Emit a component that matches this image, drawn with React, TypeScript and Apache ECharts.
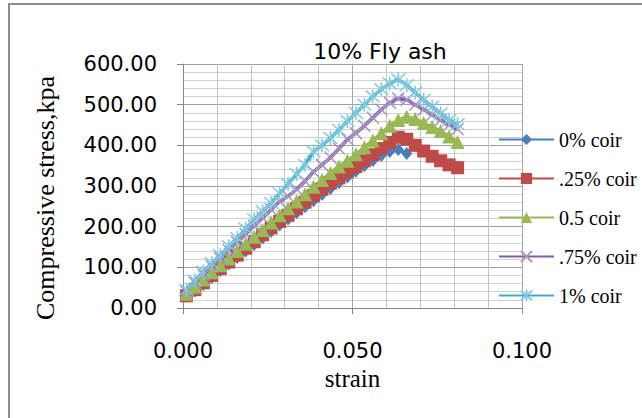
import React, { useEffect, useRef } from "react";
import * as echarts from "echarts";

const strain = [0.001, 0.0035, 0.006, 0.0085, 0.011, 0.0135, 0.016, 0.0185, 0.021, 0.0235, 0.026, 0.0285, 0.031, 0.0335, 0.036, 0.0385, 0.041, 0.0435, 0.046, 0.0485, 0.051, 0.0535, 0.056, 0.0585, 0.061, 0.0635, 0.066, 0.0685, 0.071, 0.0735, 0.076, 0.0785, 0.081];

const coir0 = [28, 42, 58, 75, 92, 108, 124, 140, 156, 172, 188, 204, 219, 234, 249, 264, 279, 294, 308, 322, 336, 350, 363, 375, 385, 390, 380];
const coir025 = [30, 45, 62, 80, 97, 113, 130, 147, 163, 180, 197, 213, 228, 244, 260, 276, 292, 307, 320, 335, 348, 362, 377, 392, 407, 420, 415, 400, 386, 373, 362, 352, 345];
const coir05 = [35, 52, 70, 88, 105, 122, 140, 158, 175, 192, 210, 228, 245, 262, 280, 298, 315, 332, 348, 362, 378, 395, 412, 430, 448, 462, 470, 465, 455, 445, 435, 422, 408];
const coir075 = [40, 62, 82, 102, 122, 142, 162, 182, 202, 222, 242, 262, 275, 292, 312, 335, 352, 370, 392, 415, 430, 448, 468, 488, 505, 515, 512, 500, 488, 475, 462, 450, 440];
const coir1 = [45, 68, 90, 110, 130, 152, 172, 195, 218, 238, 258, 282, 305, 330, 352, 385, 400, 418, 438, 460, 480, 500, 520, 538, 552, 562, 548, 530, 512, 495, 478, 462, 452];

const seriesNames = ["0% coir", ".25% coir", "0.5 coir", ".75% coir", "1% coir"];
const yTicks = [0, 100, 200, 300, 400, 500, 600];
const xTicks = [0, 0.05, 0.1];

const pair = (ys: number[]) => ys.map((y, i) => [strain[i], y]);

export default function App() {
  const ref = useRef<HTMLDivElement>(null);
  useEffect(() => {
    document.body.style.margin = "0";
    const chart = echarts.init(ref.current!, undefined, { renderer: "svg" });
    const sans = "DejaVu Sans";
    const serif = "Liberation Serif";
    const mk = (
      name: string,
      data: number[],
      color: string,
      markColor: string,
      symbol: string,
      size: number | number[],
      bw: number
    ) => ({
      name,
      type: "line",
      data: pair(data),
      symbol,
      symbolSize: size,
      showAllSymbol: true,
      lineStyle: { color, width: 3.5 },
      itemStyle: { color: markColor, borderColor: markColor, borderWidth: bw },
    });
    chart.setOption({
      animation: false,
      backgroundColor: "#ffffff",
      title: {
        text: "10% Fly ash",
        left: 375,
        textAlign: "center",
        top: 35,
        textStyle: { fontFamily: sans, fontSize: 22, fontWeight: "normal", color: "#000" },
      },
      graphic: [
        {
          type: "rect",
          shape: { x: 9, y: 4, width: 700, height: 500 },
          style: { fill: "none", stroke: "#8c8c8c", lineWidth: 2 },
          z: -10,
        },
        {
          type: "text",
          x: 45,
          y: 198,
          rotation: Math.PI / 2,
          style: {
            text: "Compressive stress,kpa",
            fontFamily: serif,
            fontSize: 26,
            fill: "#000",
            align: "center",
            verticalAlign: "middle",
          },
        },
      ],
      legend: {
        orient: "vertical",
        left: 493,
        top: 124,
        itemWidth: 55,
        itemHeight: 14,
        itemGap: 18,
        textStyle: { fontFamily: serif, fontSize: 20, color: "#000", lineHeight: 21 },
        data: seriesNames,
      },
      grid: { left: 183, right: 120, top: 64, bottom: 110 },
      xAxis: {
        type: "value",
        min: xTicks[0],
        max: xTicks[xTicks.length - 1],
        interval: 0.05,
        name: "strain",
        nameLocation: "middle",
        nameGap: 46,
        nameTextStyle: { fontFamily: serif, fontSize: 25, color: "#000" },
        axisLine: { show: true, lineStyle: { color: "#868686", width: 1 } },
        axisTick: { show: true, length: 6, lineStyle: { color: "#868686" } },
        axisLabel: {
          margin: 32,
          fontFamily: sans,
          fontSize: 21,
          color: "#000",
          formatter: (v: number) => v.toFixed(3),
        },
        splitLine: { show: true, lineStyle: { color: "#a8a8a8", width: 1 } },
        minorTick: { show: false, splitNumber: 5 },
        minorSplitLine: { show: true, lineStyle: { color: "#c4c4c4", width: 1 } },
      },
      yAxis: {
        type: "value",
        min: yTicks[0],
        max: yTicks[yTicks.length - 1],
        interval: 100,
        axisLine: { show: true, lineStyle: { color: "#868686", width: 1 } },
        axisTick: { show: true, length: 6, lineStyle: { color: "#868686" } },
        axisLabel: {
          margin: 26,
          fontFamily: sans,
          fontSize: 21,
          color: "#000",
          formatter: (v: number) => v.toFixed(2),
        },
        splitLine: { show: true, lineStyle: { color: "#a0a0a0", width: 1 } },
        minorTick: { show: false, splitNumber: 5 },
        minorSplitLine: { show: true, lineStyle: { color: "#d0d0d0", width: 1 } },
      },
      series: [
        mk(seriesNames[0], coir0, "#4A7EBB", "#4A7EBB", "diamond", [11, 13], 0),
        mk(seriesNames[1], coir025, "#BE4B48", "#BE4B48", "rect", 13, 0),
        mk(seriesNames[2], coir05, "#98B954", "#98B954", "triangle", 14, 0),
        mk(seriesNames[3], coir075, "#7D60A0", "#A993C8", "path://M0,0L10,10M10,0L0,10", 12, 1.5),
        mk(seriesNames[4], coir1, "#46AAC5", "#7CCBE0", "path://M0,0L10,10M10,0L0,10M5,-1L5,11", 14, 1.5),
      ],
    });
    return () => chart.dispose();
  }, []);
  return <div ref={ref} style={{ width: 642, height: 418 }} />;
}
